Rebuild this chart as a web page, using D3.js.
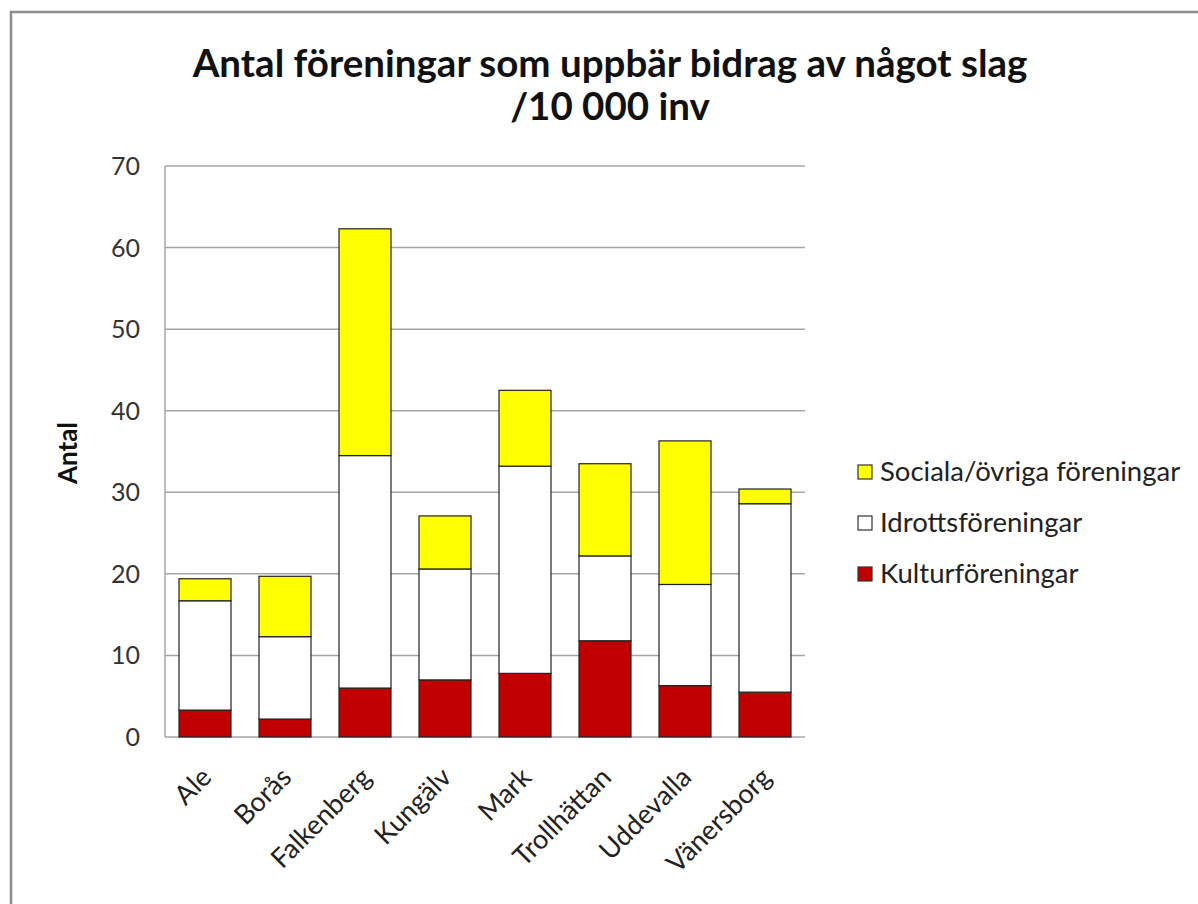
<!DOCTYPE html>
<html>
<head>
<meta charset="utf-8">
<script src="https://cdn.jsdelivr.net/npm/d3@7"></script>
<style>
  body { margin: 0; background: #fff; }
  text { font-family: Lato, "Noto Sans", sans-serif; }
</style>
</head>
<body>
<svg id="chart" width="1198" height="904"></svg>
<script>
// data
const kommuner = ["Ale", "Borås", "Falkenberg", "Kungälv", "Mark", "Trollhättan", "Uddevalla", "Vänersborg"]
const kultur = [3.3, 2.2, 6.0, 7.0, 7.8, 11.8, 6.3, 5.5]
const idrott = [13.4, 10.1, 28.5, 13.6, 25.4, 10.4, 12.4, 23.1]
const sociala = [2.7, 7.4, 27.8, 6.5, 9.3, 11.3, 17.6, 1.8]
const seriesNames = ["Kulturföreningar", "Idrottsföreningar", "Sociala/övriga föreningar"]
const seriesColors = ["#C00000", "#FFFFFF", "#FFFF00"]
const yTicks = [0, 10, 20, 30, 40, 50, 60, 70]

const svg = d3.select("#chart")

// outer frame (only top and left show)
svg.append("path")
    .attr("d", "M11,905 L11,12 L1200,12")
    .attr("fill", "none")
    .attr("stroke", "#8c8c8c")
    .attr("stroke-width", 2.5)

const margin = { left: 165, top: 166, right: 805, bottom: 737 }

let rows = kommuner.map(function (k, i) {
    return { kommun: k, k0: kultur[i], k1: idrott[i], k2: sociala[i] }
})
let stacked = d3.stack().keys(["k0", "k1", "k2"])(rows)

let x = d3.scaleBand().domain(kommuner).range([margin.left, margin.right]).paddingInner(0.35).paddingOuter(0.175)
let y = d3.scaleLinear().domain([0, 70]).range([margin.bottom, margin.top])

// gridlines
svg.append("g")
    .selectAll("line")
    .data(yTicks)
    .enter()
    .append("line")
    .attr("x1", margin.left)
    .attr("x2", margin.right)
    .attr("y1", function (d) { return y(d) })
    .attr("y2", function (d) { return y(d) })
    .attr("stroke", "#a6a6a6")
    .attr("stroke-width", 1.5)

// y axis line
svg.append("line")
    .attr("x1", margin.left).attr("x2", margin.left)
    .attr("y1", margin.top).attr("y2", margin.bottom)
    .attr("stroke", "#a6a6a6")
    .attr("stroke-width", 1.5)

// y tick labels
svg.append("g")
    .selectAll("text")
    .data(yTicks)
    .enter()
    .append("text")
    .attr("x", 140)
    .attr("y", function (d) { return y(d) + 9 })
    .attr("text-anchor", "end")
    .attr("font-size", 25)
    .attr("fill", "#333")
    .text(function (d) { return d })

// bars
svg.append("g")
    .selectAll("g")
    .data(stacked)
    .enter()
    .append("g")
    .attr("fill", function (d, i) { return seriesColors[i] })
    .selectAll("rect")
    .data(function (d) { return d })
    .enter()
    .append("rect")
    .attr("x", function (d) { return x(d.data.kommun) })
    .attr("y", function (d) { return y(d[1]) })
    .attr("width", x.bandwidth())
    .attr("height", function (d) { return y(d[0]) - y(d[1]) })
    .attr("stroke", "#222")
    .attr("stroke-width", 1.2)

// x labels
svg.append("g")
    .selectAll("text")
    .data(kommuner)
    .enter()
    .append("text")
    .attr("transform", function (d) {
        return "translate(" + (x(d) + x.bandwidth() / 2 + 8) + "," + (margin.bottom + 42) + ") rotate(-45)"
    })
    .attr("text-anchor", "end")
    .attr("font-size", 27)
    .attr("fill", "#222")
    .text(function (d) { return d })

// axis title
svg.append("text")
    .attr("transform", "translate(77,453) rotate(-90)")
    .attr("text-anchor", "middle")
    .attr("font-size", 26)
    .attr("font-weight", "bold")
    .attr("fill", "#111")
    .text("Antal")

// title
svg.append("text")
    .attr("x", 610)
    .attr("y", 77)
    .attr("text-anchor", "middle")
    .attr("font-size", 38.5)
    .attr("font-weight", "bold")
    .attr("fill", "#111")
    .text("Antal föreningar som uppbär bidrag av något slag")
svg.append("text")
    .attr("x", 610)
    .attr("y", 120)
    .attr("text-anchor", "middle")
    .attr("font-size", 38.5)
    .attr("font-weight", "bold")
    .attr("fill", "#111")
    .text("/10 000 inv")

// legend, top entry is the top series
let legend = svg.append("g")
    .selectAll("g")
    .data([2, 1, 0])
    .enter()
    .append("g")
    .attr("transform", function (d, i) { return "translate(858," + (465 + i * 51) + ")" })
legend.append("rect")
    .attr("width", 14)
    .attr("height", 14)
    .attr("fill", function (d) { return seriesColors[d] })
    .attr("stroke", "#333")
    .attr("stroke-width", 1.2)
legend.append("text")
    .attr("x", 22)
    .attr("y", 16)
    .attr("font-size", 27.5)
    .attr("fill", "#222")
    .text(function (d) { return seriesNames[d] })
</script>
</body>
</html>
